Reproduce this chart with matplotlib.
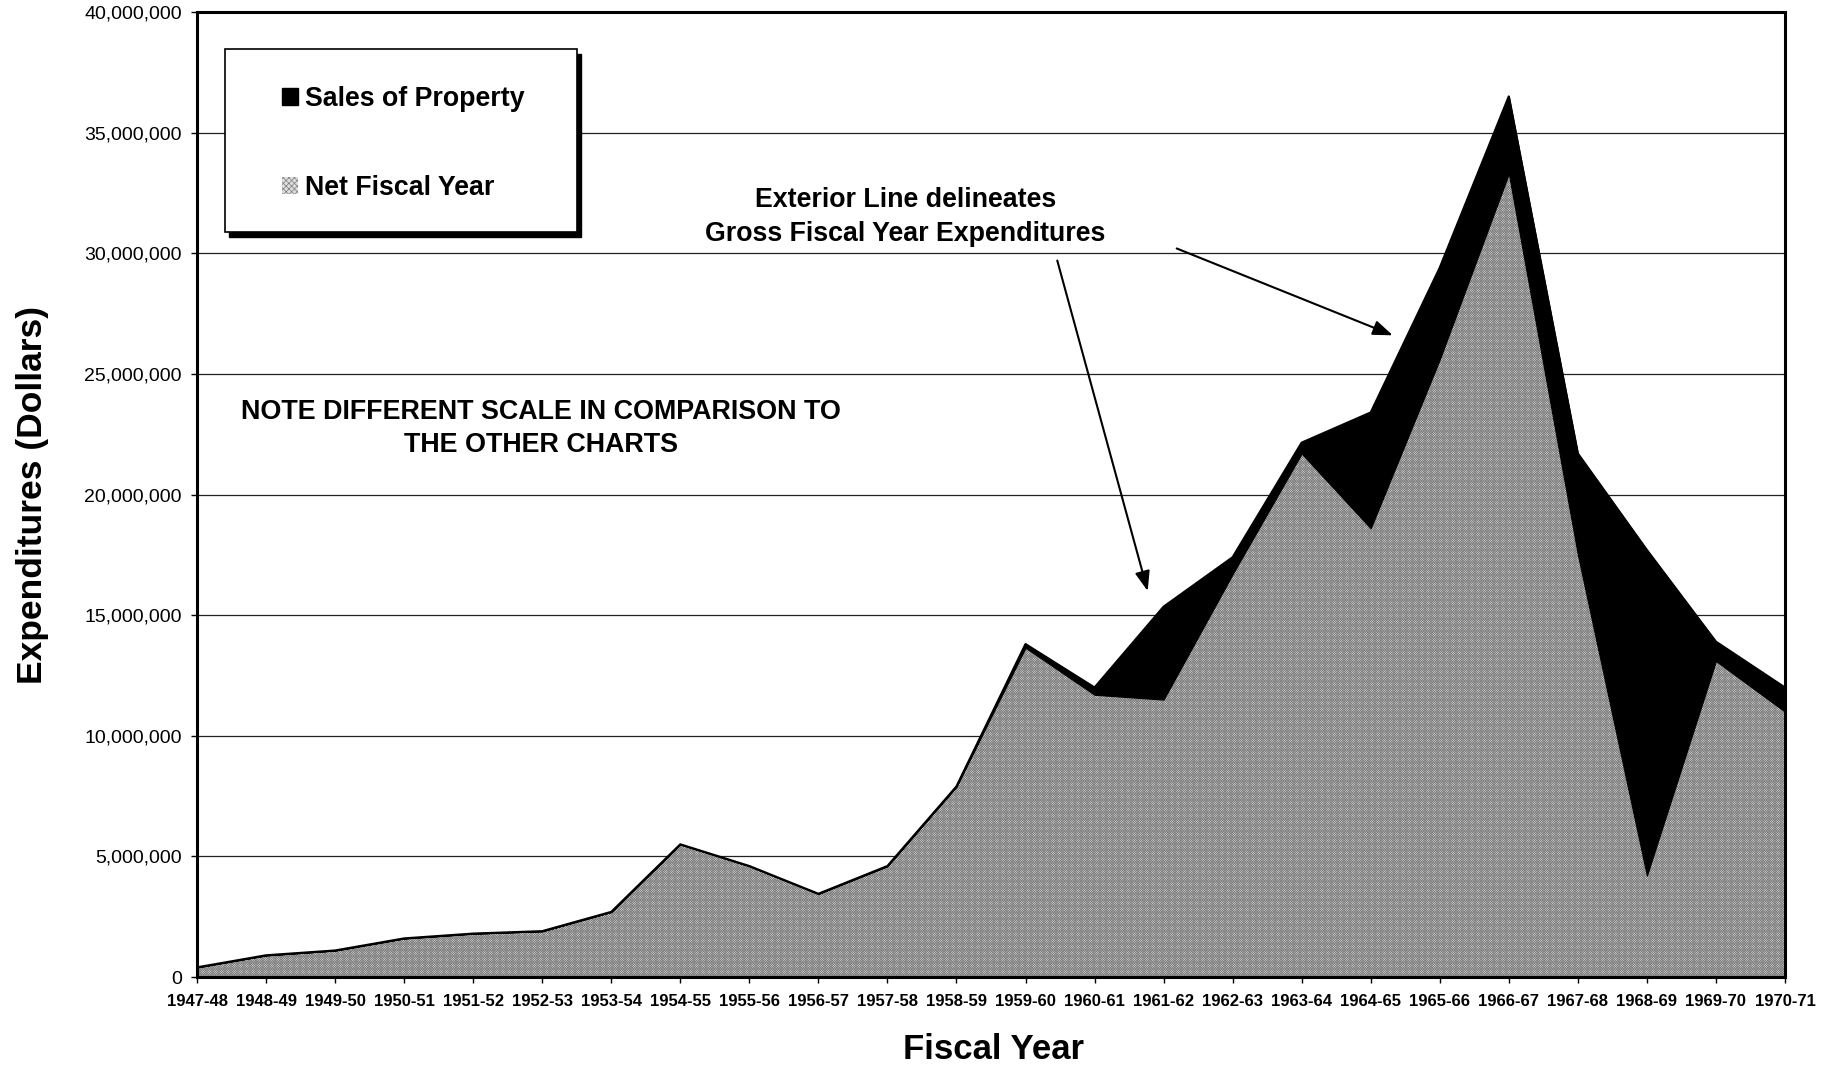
import matplotlib
matplotlib.use('Agg')
import matplotlib.pyplot as plt
import numpy as np
from matplotlib.patches import Patch, Rectangle
from matplotlib.ticker import FuncFormatter, MultipleLocator

plt.rcParams['font.family'] = ['Liberation Sans', 'DejaVu Sans']
plt.rcParams['hatch.color'] = '#7c7c7c'
plt.rcParams['hatch.linewidth'] = 0.5

# Fiscal years and expenditures in millions of dollars
fiscal_years = ['1947-48', '1948-49', '1949-50', '1950-51', '1951-52', '1952-53',
                '1953-54', '1954-55', '1955-56', '1956-57', '1957-58', '1958-59',
                '1959-60', '1960-61', '1961-62', '1962-63', '1963-64', '1964-65',
                '1965-66', '1966-67', '1967-68', '1968-69', '1969-70', '1970-71']
net_fiscal = [0.4, 0.9, 1.1, 1.6, 1.8, 1.9,
              2.7, 5.5, 4.6, 3.45, 4.6, 7.9,
              13.65, 11.7, 11.5, 16.7, 21.7, 18.6,
              25.6, 33.3, 17.5, 4.2, 13.1, 11.0]
sales_of_property = [0, 0, 0, 0, 0, 0,
                     0, 0, 0, 0, 0, 0,
                     0.15, 0.3, 3.85, 0.7, 0.45, 4.8,
                     3.8, 3.2, 4.2, 13.5, 0.8, 1.0]

NET_FACE = '#dedede'


def main():
    x = np.arange(len(fiscal_years))
    net = np.array(net_fiscal) * 1e6
    gross = net + np.array(sales_of_property) * 1e6

    fig = plt.figure(figsize=(18.36, 10.65), dpi=100)
    ax = fig.add_axes([0.1073, 0.0826, 0.8649, 0.9061])

    # grid sits underneath the filled areas
    ax.set_axisbelow(True)
    ax.yaxis.grid(True, color='#222222', linewidth=0.9)

    ax.fill_between(x, 0, net, facecolor=NET_FACE, hatch='x' * 14,
                    edgecolor='#7c7c7c', linewidth=0, zorder=2)
    ax.fill_between(x, net, gross, facecolor='black', edgecolor='black',
                    linewidth=0.8, zorder=3)
    ax.plot(x, gross, color='black', linewidth=1.6, zorder=4)

    ax.set_xlim(0, len(fiscal_years) - 1)
    ax.set_ylim(0, 40e6)
    ax.set_xticks(x)
    ax.set_xticklabels(fiscal_years, fontsize=12, fontweight='bold')
    ax.yaxis.set_major_locator(MultipleLocator(5e6))
    ax.yaxis.set_major_formatter(FuncFormatter(lambda v, p: '{:,.0f}'.format(v)))
    ax.tick_params(axis='y', labelsize=14, length=4, width=1, pad=7)
    ax.tick_params(axis='x', length=4, width=1, pad=8)
    for s in ax.spines.values():
        s.set_linewidth(2.2)
        s.set_zorder(5)

    ax.set_ylabel('Expenditures (Dollars)', fontsize=25.5, fontweight='bold',
                  labelpad=25)
    fig.text(0.541, 0.015, 'Fiscal Year', fontsize=25, fontweight='bold',
             ha='center', va='center')

    # legend box with a drop shadow
    box_x0, box_y0, box_w, box_h = 0.0176, 0.772, 0.2217, 0.1897
    ax.add_patch(Rectangle((box_x0 + 0.0028, box_y0 - 0.0055), box_w, box_h,
                           transform=ax.transAxes, facecolor='black',
                           edgecolor='black', zorder=6))
    ax.add_patch(Rectangle((box_x0, box_y0), box_w, box_h,
                           transform=ax.transAxes, facecolor='white',
                           edgecolor='black', linewidth=1.2, zorder=7))
    handles = [Patch(facecolor='black', edgecolor='black'),
               Patch(facecolor=NET_FACE, hatch='x' * 6, edgecolor='#7c7c7c',
                     linewidth=0)]
    leg = ax.legend(handles, ['Sales of Property', 'Net Fiscal Year'],
                    loc='upper left', bbox_to_anchor=(0.045, 0.937),
                    frameon=False, fontsize=19.3, handlelength=0.6,
                    handleheight=0.6, handletextpad=0.25, labelspacing=2.35,
                    borderpad=0)
    leg.set_zorder(8)
    for t in leg.get_texts():
        t.set_fontweight('bold')

    ax.text(0.2166, 0.568, 'NOTE DIFFERENT SCALE IN COMPARISON TO\nTHE OTHER CHARTS',
            transform=ax.transAxes, ha='center', va='center', fontsize=19.4,
            fontweight='bold', linespacing=1.35, zorder=6)
    ax.text(0.446, 0.788, 'Exterior Line delineates\nGross Fiscal Year Expenditures',
            transform=ax.transAxes, ha='center', va='center', fontsize=19.3,
            fontweight='bold', linespacing=1.4, zorder=6)

    arrow = dict(arrowstyle='-|>,head_length=1.2,head_width=0.45',
                 color='black', linewidth=1.5, shrinkA=0, shrinkB=0)
    ax.annotate('', xy=(13.77, 16.0e6), xytext=(12.46, 29.7e6),
                arrowprops=arrow, zorder=6)
    ax.annotate('', xy=(17.32, 26.6e6), xytext=(14.19, 30.2e6),
                arrowprops=arrow, zorder=6)

    fig.savefig('out.png', dpi=100)


if __name__ == '__main__':
    main()
